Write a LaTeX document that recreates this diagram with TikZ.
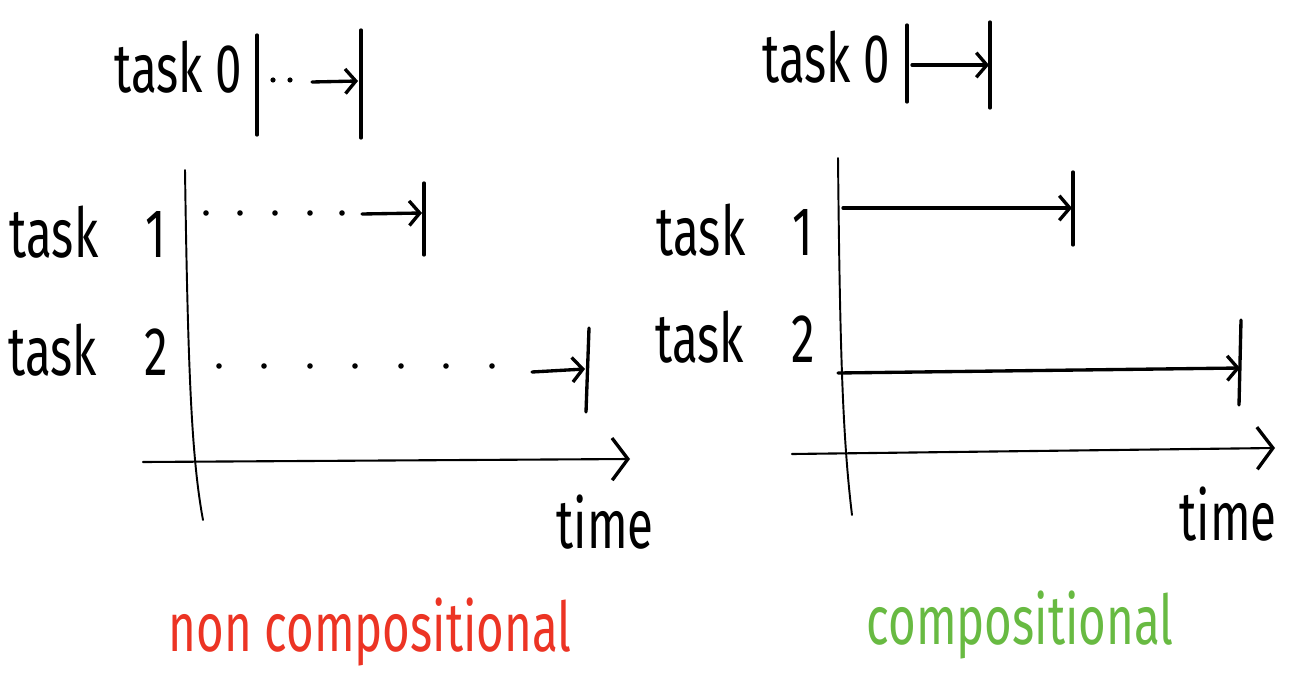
\documentclass[tikz,border=0pt]{standalone}
\usepackage{fontspec}
\setmainfont{Fira Sans}
\usetikzlibrary{arrows.meta}
\definecolor{inkred}{RGB}{236,52,36}
\definecolor{inkgreen}{RGB}{104,186,66}
% tall, narrow lettering
\newcommand{\handtext}[1]{\scalebox{1}[1.45]{#1}}
\tikzset{
  hand/.style={inner sep=0pt, font=\fontsize{27}{30}\selectfont},
  bar/.style={line width=1.9pt, line cap=round},
  vaxis/.style={line width=1.1pt, line cap=round},
  haxis/.style={line width=1.2pt, line cap=round,
    -{Straight Barb[length=9pt,width=24pt,line width=1.9pt]}},
  span/.style={line width=1.9pt, line cap=round,
    -{Straight Barb[length=6pt,width=14pt,line width=1.9pt]}},
}
\begin{document}
\begin{tikzpicture}[x=0.02cm,y=-0.02cm]
\useasboundingbox (0,0) rectangle (1297,692);

% ---------- left panel: non compositional ----------
\node[hand] (l0) at (178,67) {\handtext{task 0}};
\coordinate (l0a) at (257,35);  \coordinate (l0b) at (257,135);
\coordinate (l0c) at (361,30);  \coordinate (l0d) at (361,138);
\draw[bar] (l0a) -- (l0b);
\draw[bar] (l0c) -- (l0d);
\foreach \x in {273,290} \fill (\x,80) circle (2.6);
\coordinate (l0s) at (312,82);
\coordinate (l0e) at (358,81);
\draw[span] (l0s) -- (l0e);

\draw[vaxis] (185,170) .. controls (188,380) and (192,460) .. (203,520);

\node[hand] (l1) at (88,232) {\handtext{task\quad 1}};
\coordinate (l1a) at (424,183); \coordinate (l1b) at (424,255);
\draw[bar] (l1a) -- (l1b);
\foreach \x in {206,240,275,310,342} \fill (\x,213) circle (2.8);
\coordinate (l1s) at (362,214);
\coordinate (l1e) at (422,213);
\draw[span] (l1s) -- (l1e);

\node[hand] (l2) at (88,350) {\handtext{task\quad 2}};
\coordinate (l2a) at (589,328); \coordinate (l2b) at (586,412);
\draw[bar] (l2a) -- (l2b);
\foreach \x in {219,264,310,355,401,446,492} \fill (\x,366) circle (2.8);
\coordinate (l2s) at (532,372);
\coordinate (l2e) at (585,369);
\draw[span] (l2s) -- (l2e);

\coordinate (lxa) at (143,462);
\coordinate (lxb) at (630,459);
\draw[haxis] (lxa) -- (lxb);
\node[hand] (lt) at (605,522) {\handtext{time}};

\node[hand,text=inkred] (lc) at (370,632) {\handtext{non compositional}};

% ---------- right panel: compositional ----------
\node[hand] (r0) at (826,57) {\handtext{task 0}};
\coordinate (r0a) at (907,25);  \coordinate (r0b) at (907,102);
\coordinate (r0c) at (990,22);  \coordinate (r0d) at (990,108);
\draw[bar] (r0a) -- (r0b);
\draw[bar] (r0c) -- (r0d);
\coordinate (r0s) at (912,65);
\coordinate (r0e) at (989,65);
\draw[span] (r0s) -- (r0e);

\draw[vaxis] (838,158) .. controls (840,360) and (843,440) .. (852,515);

\node[hand] (r1) at (735,230) {\handtext{task\quad 1}};
\coordinate (r1a) at (1073,172); \coordinate (r1b) at (1073,245);
\draw[bar] (r1a) -- (r1b);
\coordinate (r1s) at (843,208);
\coordinate (r1e) at (1072,208);
\draw[span] (r1s) -- (r1e);

\node[hand] (r2) at (735,337) {\handtext{task\quad 2}};
\coordinate (r2a) at (1241,320); \coordinate (r2b) at (1239,405);
\draw[bar] (r2a) -- (r2b);
\coordinate (r2s) at (838,373);
\coordinate (r2e) at (1240,368);
\draw[span] (r2s) -- (r2e);

\coordinate (rxa) at (792,454);
\coordinate (rxb) at (1275,448);
\draw[haxis] (rxa) -- (rxb);
\node[hand] (rt) at (1228,514) {\handtext{time}};

\node[hand,text=inkgreen] (rc) at (1020,625) {\handtext{compositional}};
\end{tikzpicture}
\end{document}
